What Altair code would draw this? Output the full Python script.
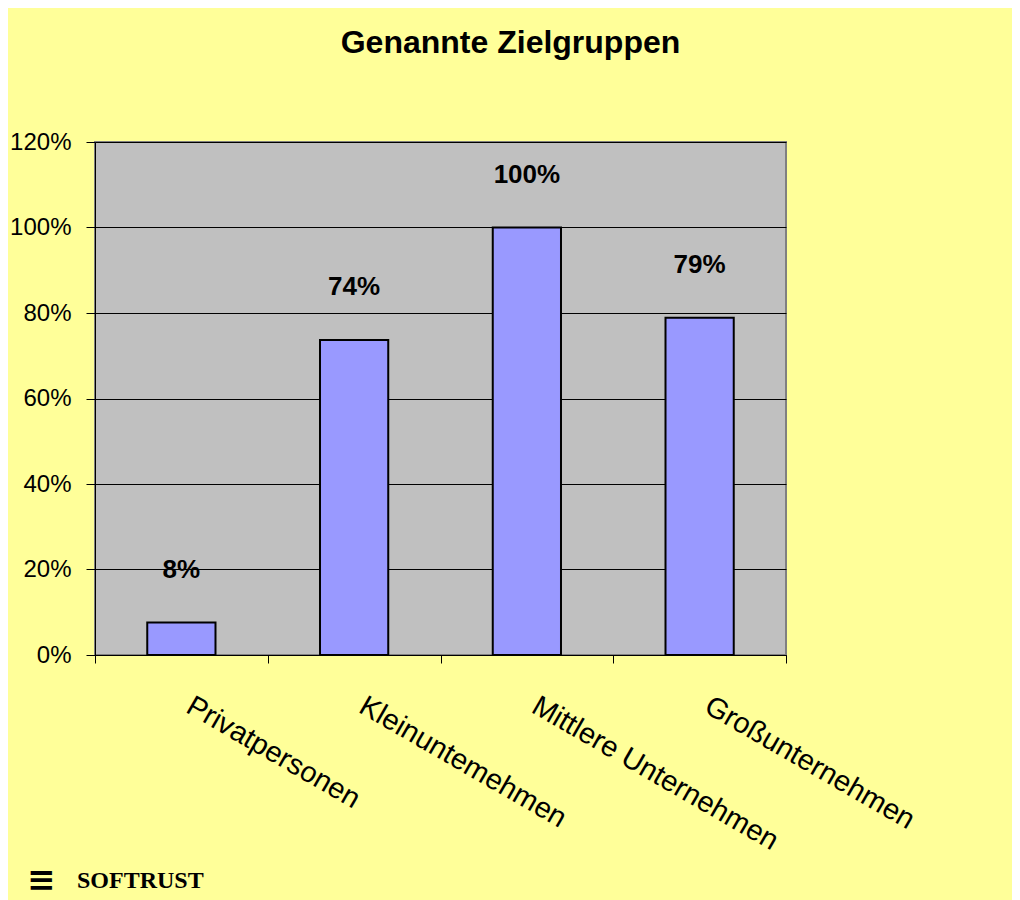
import altair as alt
import pandas as pd

categories = ["Privatpersonen", "Kleinuntemehmen", "Mittlere Unternehmen", "Großunternehmen"]
values = [0.076, 0.737, 1.0, 0.789]
y_ticks = [0.0, 0.2, 0.4, 0.6, 0.8, 1.0, 1.2]
title_text = "Genannte Zielgruppen"
logo_text = "SOFTRUST"
logo_icon = "≡"

df = pd.DataFrame({"cat": categories, "val": values})

x_enc = alt.X(
    "cat:N",
    sort=categories,
    title=None,
    scale=alt.Scale(paddingInner=0, paddingOuter=0),
    axis=alt.Axis(
        labelAngle=30,
        labelAlign="left",
        labelBaseline="top",
        labelPadding=28,
        labelOffset=14,
        labelFontSize=29,
        labelFont="Liberation Sans",
        labelColor="black",
        labelLimit=500,
        labelOverlap=False,
        tickBand="extent",
        tickSize=8,
        tickColor="black",
        domainColor="black",
        grid=False,
    ),
)
y_enc = alt.Y(
    "val:Q",
    title=None,
    scale=alt.Scale(domain=[0, 1.2], nice=False),
    axis=alt.Axis(
        values=y_ticks,
        format=".0%",
        labelFontSize=24,
        labelFont="Liberation Sans",
        labelColor="black",
        labelPadding=15,
        tickSize=9,
        tickColor="black",
        domainColor="black",
        grid=True,
        gridColor="black",
        gridWidth=1,
    ),
)

bars = alt.Chart(df).mark_bar(
    color="#9999FF", stroke="black", strokeWidth=2, width=alt.RelativeBandSize(0.395)
).encode(x=x_enc, y=y_enc)

labels = alt.Chart(df).mark_text(
    dy=-53, fontSize=26, fontWeight="bold", font="Liberation Sans", color="black", baseline="middle"
).encode(
    x=alt.X("cat:N", sort=categories),
    y=alt.Y("val:Q"),
    text=alt.Text("val:Q", format=".0%"),
)

logo = alt.Chart(pd.DataFrame({"t": [logo_text]})).mark_text(
    align="left", baseline="alphabetic", fontSize=24, fontWeight="bold", font="Liberation Serif", color="black"
).encode(x=alt.value(-18), y=alt.value(746), text="t:N")

icon = alt.Chart(pd.DataFrame({"t": [logo_icon]})).mark_text(
    align="left", baseline="alphabetic", fontSize=34, fontWeight="bold", font="DejaVu Sans", color="black"
).encode(x=alt.value(-68), y=alt.value(749), text="t:N")

chart = alt.layer(bars, labels, logo, icon).properties(
    width=691,
    height=513,
    padding={"left": 87, "top": 134, "right": 226, "bottom": 245},
    autosize=alt.AutoSizeParams(type="none"),
    title=alt.Title(
        title_text,
        fontSize=32,
        font="Liberation Sans",
        fontWeight="bold",
        color="black",
        anchor="middle",
        dx=70,
        offset=45,
        baseline="alphabetic",
    ),
).configure(background="#FFFF99").configure_view(fill="#C0C0C0", stroke="#808080", strokeWidth=2)

chart.save("out.html", embed_options={"renderer": "svg", "actions": False})
